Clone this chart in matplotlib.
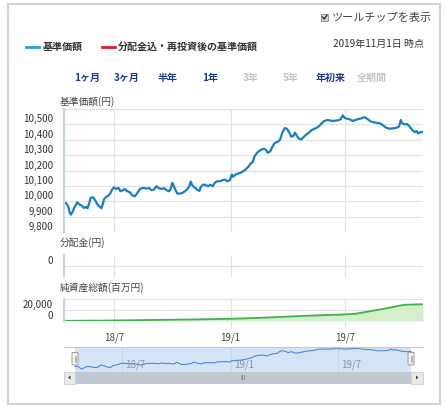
import numpy as np
import matplotlib

matplotlib.use("Agg")
import matplotlib.pyplot as plt
from matplotlib.patches import Rectangle, FancyBboxPatch, Polygon
from matplotlib.transforms import ScaledTranslation

plt.rcParams["font.family"] = ["Noto Sans CJK JP", "DejaVu Sans"]

W, H = 446, 408
START = np.datetime64("2018-04-13")

# 基準価額 (days since START, yen)
nav_days = [
    0, 4, 7, 9, 11, 14, 16, 19, 21, 24, 28, 31, 35, 37, 40, 42, 46, 50, 54, 57,
    59, 61, 63, 66, 70, 73, 76, 79, 82, 86, 89, 93, 96, 100, 104, 108, 112, 116, 120, 125,
    130, 135, 138, 142, 146, 150, 154, 158, 162, 166, 168, 171, 174, 177, 179, 183, 187, 191, 195, 198,
    200, 203, 207, 210, 214, 216, 220, 224, 228, 231, 235, 238, 242, 246, 250, 254, 258, 262, 265, 267,
    271, 275, 279, 283, 287, 291, 295, 298, 301, 305, 308, 312, 316, 319, 322, 326, 329, 333, 337, 341,
    343, 346, 349, 352, 356, 359, 362, 365, 368, 371, 375, 379, 383, 387, 391, 396, 399, 403, 407, 411,
    416, 420, 424, 428, 432, 437, 440, 443, 447, 451, 456, 460, 464, 468, 472, 475, 480, 484, 488, 493,
    499, 504, 509, 514, 520, 525, 529, 532, 534, 538, 542, 546, 550, 554, 557, 559, 563, 567,
]
nav_values = [
    9993, 9985, 9963, 9924, 9913, 9935, 9957, 9978, 9993, 9980, 9972, 9957, 9963, 9954, 9989, 10022, 10026, 10000, 9972, 9963,
    9954, 9978, 10011, 10026, 10037, 10050, 10076, 10091, 10080, 10087, 10065, 10072, 10080, 10065, 10059, 10037, 10033, 10054, 10080, 10087,
    10083, 10085, 10072, 10076, 10098, 10085, 10080, 10085, 10072, 10065, 10076, 10120, 10093, 10065, 10050, 10050, 10054, 10065, 10080, 10098,
    10128, 10102, 10087, 10076, 10067, 10093, 10109, 10104, 10098, 10107, 10098, 10120, 10130, 10130, 10137, 10141, 10130, 10137, 10174, 10159,
    10174, 10180, 10185, 10196, 10207, 10224, 10246, 10254, 10293, 10315, 10326, 10337, 10341, 10333, 10315, 10326, 10354, 10380, 10385, 10398,
    10424, 10457, 10476, 10472, 10446, 10420, 10424, 10446, 10424, 10407, 10402, 10420, 10435, 10446, 10463, 10472, 10478, 10489, 10507, 10522,
    10528, 10526, 10522, 10524, 10526, 10533, 10559, 10543, 10537, 10533, 10522, 10528, 10533, 10537, 10543, 10546, 10533, 10520, 10515, 10511,
    10507, 10493, 10478, 10472, 10474, 10478, 10485, 10528, 10507, 10500, 10502, 10485, 10463, 10450, 10457, 10441, 10450, 10450,
]

# 純資産総額 (days since START, 百万円)
asset_days = [0, 77, 136, 199, 264, 310, 357, 404, 441, 460, 479, 510, 531, 539, 567]
asset_values = [300, 900, 1800, 2700, 4000, 5800, 8200, 10400, 11800, 13100, 16900, 23100, 28200, 29500, 30400]

tick_dates = ["2018-07-01", "2019-01-01", "2019-07-01"]
tick_labels = ["18/7", "19/1", "19/7"]
nav_ticks = [9800, 9900, 10000, 10100, 10200, 10300, 10400, 10500, 10600]
nav_tick_labels = ["9,800", "9,900", "10,000", "10,100", "10,200", "10,300", "10,400", "10,500", ""]
asset_ticks = [0, 20000, 40000]
asset_tick_labels = ["0", "20,000", ""]
period_buttons = ["1ヶ月", "3ヶ月", "半年", "1年", "3年", "5年", "年初来", "全期間"]
period_enabled = [True, True, True, True, False, False, True, False]

GRID = "#e2e2e2"
TEXT = "#333333"

fig = plt.figure(figsize=(W / 100, H / 100), dpi=100)
fig.patch.set_facecolor("white")

nav_dates = START + np.array(nav_days, dtype="timedelta64[D]")
asset_dates = START + np.array(asset_days, dtype="timedelta64[D]")
tick_dt = np.array(tick_dates, dtype="datetime64[D]")


def px_axes(x0, y0, x1, y1):
    return fig.add_axes([x0 / W, 1 - y1 / H, (x1 - x0) / W, (y1 - y0) / H])


def style_panel(ax):
    for s in ax.spines.values():
        s.set_visible(False)
    ax.spines["left"].set_visible(True)
    ax.spines["left"].set_color("#c6d4e3")
    ax.spines["left"].set_linewidth(1.6)
    ax.set_xlim(nav_dates[0], nav_dates[-1])
    ax.set_xticks(tick_dt)
    ax.grid(True, color=GRID, lw=0.9)
    ax.set_axisbelow(True)
    ax.tick_params(length=0, labelbottom=False, labelleft=False)


def y_labels(ax, ticks, labels):
    trans = ax.get_yaxis_transform() + ScaledTranslation(-0.11, 0.05, fig.dpi_scale_trans)
    for t, l in zip(ticks, labels):
        ax.text(0, t, l, transform=trans, ha="right", va="center", fontsize=7, color=TEXT)


# main NAV panel
ax1 = px_axes(64, 109, 423, 232)
style_panel(ax1)
ax1.set_ylim(9800, 10600)
ax1.set_yticks(nav_ticks)
ax1.plot(nav_dates, nav_values, color="#1a7fc2", lw=1.6)
y_labels(ax1, nav_ticks, nav_tick_labels)

# distribution panel
ax2 = px_axes(64, 255, 423, 277)
style_panel(ax2)
ax2.set_ylim(-1, 1)
ax2.set_yticks([0])
y_labels(ax2, [0], ["0"])

# net asset panel
ax3 = px_axes(64, 299, 423, 321)
style_panel(ax3)
ax3.set_ylim(0, 40000)
ax3.set_yticks(asset_ticks)
ax3.fill_between(asset_dates, asset_values, 0, color="#d5eecb", lw=0)
ax3.plot(asset_dates, asset_values, color="#3fb04a", lw=1.3)
ax3.set_xticklabels(tick_labels)
ax3.tick_params(axis="x", length=6, color=GRID, width=0.9, pad=2, labelbottom=True,
                labelsize=7, labelcolor="#444444")
y_labels(ax3, asset_ticks, asset_tick_labels)

# navigator
ax4 = px_axes(64, 347, 423, 372)
for s in ax4.spines.values():
    s.set_visible(False)
ax4.spines["top"].set_visible(True)
ax4.spines["top"].set_color("#c8c8c8")
ax4.set_xlim(START - np.timedelta64(19, "D"), START + np.timedelta64(587, "D"))
ax4.set_ylim(9817, 10590)
ax4.set_xticks(tick_dt)
ax4.set_yticks([])
ax4.grid(True, axis="x", color="#c9d6e6", lw=0.8)
ax4.tick_params(length=0, labelbottom=False)
ax4.axvspan(nav_dates[0], nav_dates[-1], color="#d4e3f6", lw=0, zorder=0)
ax4.plot(nav_dates, nav_values, color="#5087cf", lw=0.8)
lbl_trans = ax4.get_xaxis_transform() + ScaledTranslation(0.03, 0, fig.dpi_scale_trans)
for d, l in zip(tick_dt, tick_labels):
    ax4.text(d, 0.28, l, transform=lbl_trans, ha="left", va="center", fontsize=7, color="#8a94a0")

# overlay for page chrome
ov = fig.add_axes([0, 0, 1, 1], zorder=10)
ov.set_xlim(0, W)
ov.set_ylim(H, 0)
ov.axis("off")
ov.patch.set_alpha(0)

ov.add_patch(Rectangle((7.5, 3.5), 432.5, 400, fill=False, ec="#cdd6e0", lw=1.6))

# tooltip checkbox
ov.add_patch(Rectangle((321, 13.5), 7, 7, fc="#d4d4d4", ec="#8a8a8a", lw=0.6))
ov.plot([322.5, 324.3, 327], [17, 19, 15], color="#222222", lw=0.9)
ov.text(331.5, 17.5, "ツールチップを表示", fontsize=8, color="#444444", ha="left", va="center")

# legend
ov.plot([26, 39], [47, 47], color="#29a0da", lw=2)
ov.text(43, 47, "基準価額", fontsize=7.2, color=TEXT, fontweight="bold", ha="left", va="center")
ov.plot([102, 115], [47, 47], color="#d6242e", lw=2)
ov.text(118, 47, "分配金込・再投資後の基準価額", fontsize=7.2, color=TEXT, fontweight="bold",
        ha="left", va="center")
ov.text(424, 44, "2019年11月1日 時点", fontsize=7.2, color=TEXT, ha="right", va="center")

# period buttons
btn_x = [87, 127, 168, 210, 251, 291, 331, 372]
for bx, name, on in zip(btn_x, period_buttons, period_enabled):
    ov.text(bx, 78, name, fontsize=7.2, fontweight="bold", ha="center", va="center",
            color="#1c3d8f" if on else "#c4c4c4")

# panel titles
ov.text(60, 102, "基準価額(円)", fontsize=7, color="#444444", ha="left", va="center")
ov.text(60, 243, "分配金(円)", fontsize=7, color="#444444", ha="left", va="center")
ov.text(60, 288, "純資産総額(百万円)", fontsize=7, color="#444444", ha="left", va="center")

# scrollbar
ov.add_patch(Rectangle((75, 371.5), 336, 12, fc="#c2c8cf", ec="none"))
ov.add_patch(Rectangle((63.5, 371.5), 11.5, 12, fc="#e9e9e9", ec="#cccccc", lw=0.6))
ov.add_patch(Rectangle((411, 371.5), 12, 12, fc="#e9e9e9", ec="#cccccc", lw=0.6))
ov.add_patch(Polygon([[70.5, 375.5], [70.5, 379.5], [68, 377.5]], fc="#444444", ec="none"))
ov.add_patch(Polygon([[416, 375.5], [416, 379.5], [418.5, 377.5]], fc="#444444", ec="none"))
ov.text(243, 377.5, "III", fontsize=4.5, color="#7a7a7a", ha="center", va="center")

# navigator handles
for hx in (72, 408):
    ov.add_patch(FancyBboxPatch((hx, 352.5), 6, 12.5, boxstyle="round,pad=0,rounding_size=1",
                                fc="#f2f2f2", ec="#9a9a9a", lw=0.7))
    ov.plot([hx + 2.5, hx + 2.5], [355.5, 362], color="#9a9a9a", lw=0.5)
    ov.plot([hx + 3.5, hx + 3.5], [355.5, 362], color="#9a9a9a", lw=0.5)

fig.savefig("out.png", dpi=100)
